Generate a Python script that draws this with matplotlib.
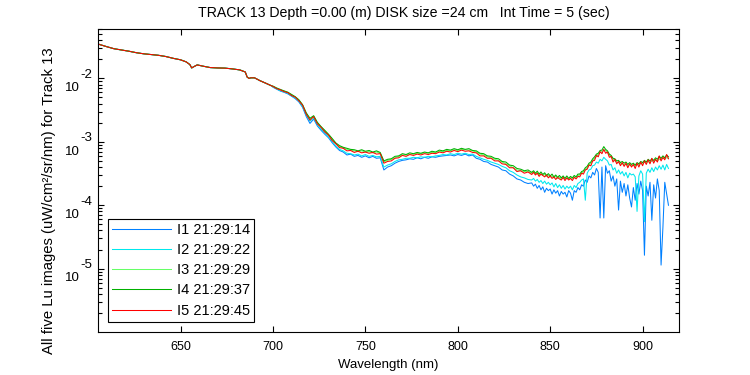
import numpy as np
import matplotlib
matplotlib.use("Agg")
import matplotlib.pyplot as plt
from matplotlib.ticker import LogLocator, NullFormatter, FixedLocator

plt.rcParams['font.family'] = ['Liberation Sans', 'DejaVu Sans']

# ---------------- data (values in units of 1e-4 uW/cm^2/sr/nm) ----------------
UNIT = 1e-4

# smooth part of the spectrum: all five images coincide here
wl_smooth = [606, 610, 614, 618, 622, 626, 630, 634, 638, 642, 646, 650, 653, 655, 656,
             657, 659, 662, 666, 670, 674, 678, 682, 684, 685, 686, 687, 688, 690, 693,
             696, 699]
lu_smooth = [343, 316, 293, 280, 268, 254, 244, 237, 231, 221, 207, 196, 182, 165, 146,
             152, 163, 156, 148, 146, 145, 141, 136, 129, 126, 105, 100, 102, 102, 91.8,
             84.1, 76.7]

# noisy part: 700 .. 838 nm every 2 nm, then 840 .. 914 nm every 1 nm
wl_noisy = list(range(700, 840, 2)) + list(range(840, 915))

lu_i1 = [72.5, 67.5, 63.0, 60.3, 57.0, 52.5, 48.0, 42.5, 35.0, 25.0,
         19.5, 22.8, 17.8, 15.2, 13.2, 11.6, 9.7, 8.3, 7.3, 6.9,
         6.2, 6.4, 5.9, 6.1, 5.7, 6.0, 5.6, 5.9, 5.5, 5.6,
         3.6, 4.0, 4.2, 4.6, 4.9, 5.1, 5.2, 5.4, 5.3, 5.6,
         5.4, 5.7, 5.5, 5.8, 5.7, 5.9, 6.0, 6.1, 6.2, 6.0,
         6.3, 6.1, 6.4, 6.0, 6.2, 5.5, 5.3, 4.9, 4.8, 4.4,
         4.2, 4.0, 3.6, 3.5, 3.1, 2.9, 2.6, 2.5, 2.3, 2.2,
         2.25, 2.0, 2.15, 1.85, 2.05, 1.75, 1.95, 1.6, 1.85, 1.7,
         1.8, 1.5, 1.75, 1.55, 1.7, 1.4, 1.65, 1.5, 1.6, 1.35,
         1.7, 1.55, 1.2, 1.7, 1.6, 1.9, 1.75, 2.1, 2.0, 2.5,
         2.3, 2.9, 2.7, 3.3, 3.0, 3.8, 3.3, 0.63, 4.0, 0.63,
         4.2, 3.2, 3.5, 2.4, 2.9, 2.0, 2.6, 0.84, 2.4, 1.6,
         2.2, 1.4, 2.1, 1.3, 0.94, 1.9, 1.2, 2.2, 1.5, 2.4,
         1.7, 0.163, 2.0, 1.4, 2.3, 0.58, 2.1, 1.3, 2.6, 1.7,
         0.114, 0.45, 2.3, 1.5, 1.0]

lu_i2 = [73.0, 68.0, 64.2, 61.0, 58.0, 53.0, 49.0, 43.5, 36.0, 26.2,
         21.2, 23.6, 18.6, 15.9, 13.8, 12.0, 10.1, 8.6, 7.6, 7.2,
         6.6, 6.5, 6.2, 6.4, 6.0, 6.3, 5.9, 6.1, 5.8, 5.9,
         4.0, 4.3, 4.5, 4.9, 5.2, 5.3, 5.5, 5.5, 5.7, 5.6,
         5.8, 5.7, 5.9, 5.8, 6.0, 6.1, 6.3, 6.2, 6.5, 6.3,
         6.6, 6.4, 6.6, 6.3, 6.4, 5.9, 5.6, 5.3, 5.1, 4.8,
         4.6, 4.4, 4.1, 3.9, 3.5, 3.3, 3.0, 2.8, 2.7, 2.55,
         2.5, 2.65, 2.4, 2.55, 2.3, 2.45, 2.2, 2.4, 2.15, 2.3,
         2.1, 2.25, 1.95, 2.2, 1.9, 2.1, 1.85, 2.05, 1.8, 2.0,
         1.85, 2.0, 1.75, 2.05, 1.9, 2.2, 2.3, 2.5, 2.6, 1.2,
         3.2, 3.6, 3.7, 4.2, 4.3, 4.8, 4.6, 5.3, 5.0, 5.7,
         5.3, 5.0, 4.3, 4.4, 3.6, 3.9, 3.2, 3.6, 3.1, 3.4,
         2.9, 3.3, 2.7, 3.2, 3.0, 3.1, 2.8, 0.8, 2.9, 3.5,
         3.1, 0.55, 3.2, 3.7, 3.3, 3.9, 3.4, 4.0, 3.6, 4.2,
         3.7, 4.3, 3.6, 4.4, 3.8]

lu_i3 = [74.8, 69.9, 65.6, 63.0, 59.9, 55.0, 50.9, 45.3, 37.9, 28.0,
         22.9, 25.3, 19.9, 17.0, 14.9, 12.9, 11.0, 9.4, 8.5, 8.0,
         7.6, 7.4, 7.2, 7.0, 7.2, 6.9, 7.0, 6.7, 6.9, 6.6,
         4.85, 5.1, 5.3, 5.6, 5.9, 6.2, 6.2, 6.4, 6.4, 6.6,
         6.5, 6.7, 6.6, 6.8, 6.8, 7.1, 7.0, 7.3, 7.2, 7.5,
         7.3, 7.6, 7.5, 7.4, 7.2, 6.9, 6.4, 6.2, 5.8, 5.6,
         5.3, 5.1, 4.8, 4.5, 4.2, 3.9, 3.6, 3.5, 3.4, 3.4,
         3.2, 3.35, 3.1, 3.25, 3.0, 3.15, 2.95, 3.05, 2.85, 2.95,
         2.8, 2.9, 2.7, 2.85, 2.65, 2.75, 2.6, 2.75, 2.6, 2.7,
         2.6, 2.7, 2.65, 2.8, 2.75, 2.95, 3.0, 3.25, 3.35, 3.7,
         3.9, 4.3, 4.6, 5.0, 5.5, 5.9, 6.4, 6.8, 7.0, 7.4,
         7.3, 6.8, 6.2, 5.7, 5.3, 5.0, 4.8, 4.7, 4.5, 4.5,
         4.35, 4.4, 4.25, 4.35, 4.2, 4.3, 4.2, 4.35, 4.4, 4.55,
         4.6, 4.75, 4.8, 4.85, 4.75, 5.0, 5.0, 5.15, 5.0, 5.3,
         5.4, 5.5, 5.5, 5.6, 5.5]

lu_i4 = [75.5, 70.5, 66.8, 63.5, 60.6, 55.9, 51.5, 46.0, 38.5, 28.6,
         23.5, 25.8, 20.3, 17.4, 15.2, 13.2, 11.3, 9.6, 8.7, 8.2,
         7.9, 7.6, 7.5, 7.2, 7.5, 7.1, 7.3, 6.9, 7.2, 6.8,
         5.0, 5.3, 5.4, 5.9, 6.0, 6.5, 6.3, 6.7, 6.5, 6.8,
         6.6, 6.9, 6.7, 7.1, 6.9, 7.4, 7.2, 7.6, 7.4, 7.8,
         7.5, 7.9, 7.6, 7.8, 7.3, 7.2, 6.6, 6.5, 6.0, 5.9,
         5.5, 5.4, 4.9, 4.8, 4.3, 4.2, 3.8, 3.7, 3.5, 3.6,
         3.3, 3.5, 3.2, 3.45, 3.1, 3.35, 3.05, 3.25, 2.95, 3.15,
         2.9, 3.1, 2.8, 3.0, 2.75, 2.95, 2.7, 2.9, 2.65, 2.9,
         2.65, 2.85, 2.7, 2.95, 2.8, 3.1, 3.1, 3.4, 3.5, 3.9,
         4.1, 4.6, 4.8, 5.4, 5.8, 6.4, 6.6, 7.3, 7.4, 8.4,
         7.6, 7.2, 6.4, 6.1, 5.5, 5.4, 5.0, 5.1, 4.7, 4.9,
         4.6, 4.8, 4.4, 4.7, 4.4, 4.6, 4.3, 4.7, 4.5, 4.9,
         4.7, 5.1, 4.8, 5.3, 5.0, 5.4, 5.1, 5.6, 5.3, 5.9,
         5.5, 6.0, 5.6, 6.2, 5.8]

lu_i5 = [74.5, 68.8, 65.9, 61.8, 59.6, 53.7, 50.6, 44.2, 37.8, 27.1,
         22.0, 24.9, 19.2, 16.9, 14.3, 12.8, 10.5, 9.3, 8.1, 7.9,
         7.2, 7.3, 6.8, 7.1, 6.7, 6.9, 6.6, 6.8, 6.4, 6.5,
         4.6, 4.9, 5.0, 5.5, 5.6, 6.1, 5.9, 6.3, 6.1, 6.4,
         6.2, 6.5, 6.3, 6.6, 6.5, 6.9, 6.7, 7.1, 6.9, 7.3,
         7.0, 7.4, 7.1, 7.2, 6.8, 6.7, 6.0, 6.0, 5.5, 5.5,
         5.0, 5.0, 4.5, 4.4, 3.9, 3.9, 3.4, 3.5, 3.2, 3.35,
         3.05, 3.3, 3.0, 3.2, 2.85, 3.1, 2.95, 2.8, 3.0, 2.7,
         2.9, 2.65, 2.8, 2.55, 2.75, 2.6, 2.5, 2.75, 2.45, 2.7,
         2.5, 2.65, 2.45, 2.75, 2.6, 2.85, 2.8, 3.2, 3.1, 3.6,
         3.7, 4.3, 4.2, 5.0, 5.1, 6.1, 5.8, 7.0, 6.5, 7.6,
         6.6, 6.9, 5.7, 5.9, 4.8, 5.3, 4.5, 4.9, 4.2, 4.7,
         4.1, 4.6, 3.9, 4.5, 4.0, 4.4, 3.8, 4.6, 4.0, 4.8,
         4.2, 5.0, 4.4, 5.2, 4.5, 5.5, 4.6, 5.3, 4.8, 6.0,
         5.0, 5.7, 5.2, 6.3, 5.4]

labels = ['I1 21:29:14', 'I2 21:29:22', 'I3 21:29:29', 'I4 21:29:37', 'I5 21:29:45']
xticks = [650, 700, 750, 800, 850, 900]
ytick_exponents = [-5, -4, -3, -2]

title = 'TRACK 13 Depth =0.00 (m) DISK size =24 cm   Int Time = 5 (sec)'
xlabel = 'Wavelength (nm)'
ylabel = 'All five Lu images (uW/cm\u00b2/sr/nm) for Track 13'

# ---------------- figure ----------------
W, H = 750, 375
fig = plt.figure(figsize=(W / 100, H / 100), dpi=100)
L, R, T, B = 98, 679, 29, 332
ax = fig.add_axes([L / W, 1 - B / H, (R - L) / W, (B - T) / H])

colors = ['#0080FF', '#00E8EE', '#66FF66', '#00B000', '#FF0000']
wl = np.array(wl_smooth + wl_noisy, dtype=float)
for vals, lab, c in zip([lu_i1, lu_i2, lu_i3, lu_i4, lu_i5], labels, colors):
    y = np.array(lu_smooth + vals, dtype=float) * UNIT
    ax.plot(wl, y, color=c, lw=0.75, label=lab)

ax.set_yscale('log')
ax.set_xlim(605.3, 919.7)
ax.set_ylim(1.005e-6, 0.06)

ax.xaxis.set_major_locator(FixedLocator(xticks))
ax.yaxis.set_major_locator(LogLocator(base=10, numticks=20))
ax.yaxis.set_minor_locator(LogLocator(base=10, subs=np.arange(2, 10), numticks=20))
ax.yaxis.set_major_formatter(NullFormatter())
ax.yaxis.set_minor_formatter(NullFormatter())

ax.tick_params(which='both', direction='in', top=True, right=True, width=0.8, colors='black')
ax.tick_params(which='major', length=4.3, labelsize=9, pad=6.5)
ax.tick_params(which='minor', length=2.6)
for s in ax.spines.values():
    s.set_linewidth(0.8)

# y tick labels drawn as "10" with a full-size exponent, as in the reference
for e in ytick_exponents:
    ax.annotate('10', xy=(0, 10.0 ** e), xycoords=('axes fraction', 'data'),
                xytext=(-13.0, -7.0), textcoords='offset points',
                ha='right', va='center', fontsize=9.5)
    ax.annotate(str(e), xy=(0, 10.0 ** e), xycoords=('axes fraction', 'data'),
                xytext=(-13.0, 2.6), textcoords='offset points',
                ha='left', va='center', fontsize=9.5)

fig.text(404 / W, 1 - 13 / H, title, fontsize=10.2, ha='center', va='center')
ax.set_xlabel(xlabel, fontsize=9.5, va='center')
ax.xaxis.set_label_coords(0.5, (B - 365) / (B - T))
ax.set_ylabel(ylabel, fontsize=10.7, va='center')
ax.yaxis.set_label_coords((49 - L) / (R - L), (B - 201) / (B - T))

leg = ax.legend(loc='lower left', bbox_to_anchor=((108 - L) / (R - L), (B - 322) / (B - T)),
                borderaxespad=0, frameon=True, fancybox=False, edgecolor='black',
                framealpha=1, fontsize=10.5, handlelength=4.0, handletextpad=0.42,
                labelspacing=0.42, borderpad=0.3)
leg.get_frame().set_linewidth(0.8)

fig.savefig('out.png', dpi=100)
